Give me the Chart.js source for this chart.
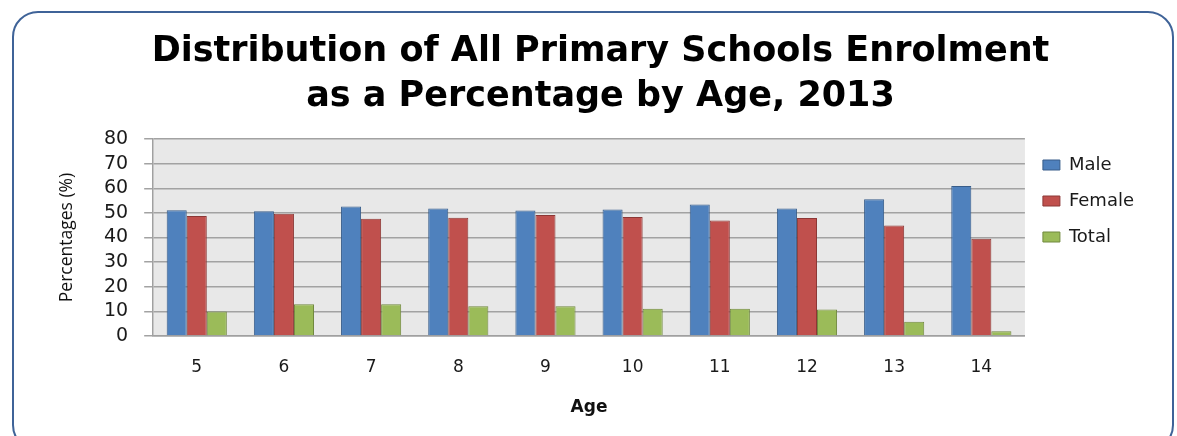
<!DOCTYPE html>
<html>
<head>
<meta charset="utf-8">
<script src="https://cdn.jsdelivr.net/npm/chart.js@4/dist/chart.umd.min.js"></script>
<style>
  body { margin: 0; background: #fff; }
  #wrap { position: relative; width: 1177px; height: 436px; overflow: hidden; }
  #frame {
    position: absolute; left: 12px; top: 11px; width: 1162px; height: 440px;
    border: 2px solid #3f6398; border-radius: 26px; box-sizing: border-box;
  }
  #bar-chart { position: absolute; left: 0; top: 0; }
</style>
</head>
<body>
<div id="wrap">
  <div id="frame"></div>
  <canvas id="bar-chart" width="1177" height="436"></canvas>
</div>
<script>
//********************
//DATA
//********************
const ages = ["5", "6", "7", "8", "9", "10", "11", "12", "13", "14"];
const male = [51.1, 50.7, 52.6, 51.8, 51.0, 51.4, 53.4, 51.8, 55.5, 60.9];
const female = [48.7, 49.6, 47.6, 48.0, 49.1, 48.3, 46.9, 47.9, 44.9, 39.5];
const total = [10.0, 12.9, 12.9, 12.1, 12.1, 11.1, 11.1, 10.8, 5.8, 1.9];
const yTicks = [0, 10, 20, 30, 40, 50, 60, 70, 80];

// grey plot area like the excel chart
const plotBg = {
  id: 'plotBg',
  beforeDraw(chart) {
    const a = chart.chartArea;
    const c = chart.ctx;
    c.save();
    c.fillStyle = "#e8e8e8";
    c.fillRect(a.left, a.top, a.right - a.left, a.bottom - a.top);
    c.restore();
  }
};

//****************************************
//ENROLMENT BY AGE - BAR
//****************************************
var ctx = document.getElementById("bar-chart");
var barChart = new Chart(ctx, {
    type: 'bar',
    data: {
        labels: ages,
        datasets: [{
            label: 'Male',
            data: male,
            backgroundColor: "#4f81bd",
            borderColor: "#385d8a",
            borderWidth: 1
        }, {
            label: 'Female',
            data: female,
            backgroundColor: "#c0504d",
            borderColor: "#8c3836",
            borderWidth: 1
        }, {
            label: 'Total',
            data: total,
            backgroundColor: "#9bbb59",
            borderColor: "#71893f",
            borderWidth: 1
        }]
    },
    plugins: [plotBg],
    options: {
      responsive: false,
      animation: false,
      categoryPercentage: 0.69,
      barPercentage: 1.0,
      layout: {
        padding: { left: 57, right: 33, top: 0, bottom: 0 }
      },
      plugins: {
        title: {
          display: true,
          text: ["Distribution of All Primary Schools Enrolment", "as a Percentage by Age, 2013"],
          color: "#000",
          font: { family: "DejaVu Sans", size: 35, weight: 'bold', lineHeight: 1.286 },
          padding: { top: 29, bottom: 20 }
        },
        legend: {
          display: true,
          position: 'right',
          align: 'start',
          title: {
            display: true,
            text: ' ',
            font: { size: 10, lineHeight: 1 },
            padding: 64
          },
          labels: {
            color: "#1a1a1a",
            boxWidth: 17,
            boxHeight: 10,
            padding: 18,
            font: { family: "DejaVu Sans", size: 18 }
          }
        },
        tooltip: { enabled: false }
      },
      scales: {
        x: {
          grid: { display: false, drawTicks: false },
          border: { display: true, color: "#a0a0a0", width: 1.5 },
          ticks: {
            color: "#1a1a1a",
            padding: 23,
            font: { family: "DejaVu Sans", size: 17, lineHeight: 1 }
          },
          title: {
            display: true,
            text: "Age",
            color: "#111",
            font: { family: "DejaVu Sans", size: 17, weight: 'bold', lineHeight: 1 },
            padding: { top: 0, bottom: 20 }
          }
        },
        y: {
          min: 0,
          max: 80,
          afterBuildTicks: (axis) => { axis.ticks = yTicks.map(v => ({ value: v })); },
          grid: { color: "#a2a2a2", lineWidth: 1.5, tickLength: 9 },
          border: { display: true, color: "#a0a0a0", width: 1.5 },
          ticks: {
            color: "#1a1a1a",
            padding: 16,
            autoSkip: false,
            font: { family: "DejaVu Sans", size: 19 }
          },
          title: {
            display: true,
            text: "Percentages (%)",
            color: "#111",
            font: { family: "Open Sans", size: 17.5 },
            padding: { top: 0, bottom: 10 }
          }
        }
      }
    }
});
</script>
</body>
</html>
